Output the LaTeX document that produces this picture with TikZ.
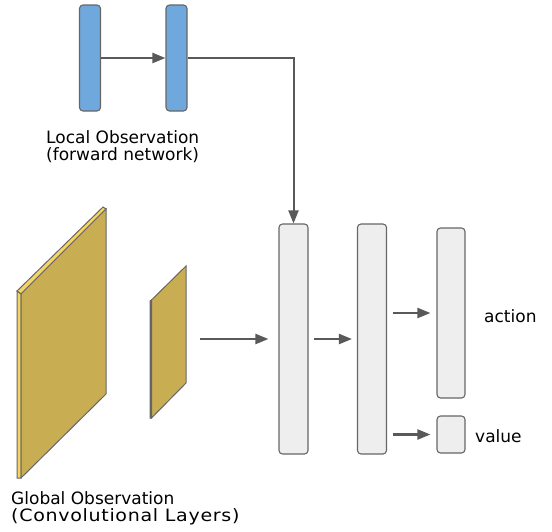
\documentclass[tikz,border=0pt]{standalone}
\usepackage{fontspec}
\setmainfont{DejaVu Sans}
\usetikzlibrary{arrows.meta,calc}
\definecolor{edgegrey}{HTML}{666666}
\definecolor{arrowgrey}{HTML}{595959}
\definecolor{layerblue}{HTML}{6FA8DC}
\definecolor{layergrey}{HTML}{EEEEEE}
\definecolor{mapface}{HTML}{C9AD52}
\definecolor{mapside}{HTML}{F7D461}
\tikzset{
  layer/.style={draw=edgegrey, line width=1.1pt, rounded corners=3.5pt, inner sep=0pt},
  bluelayer/.style={layer, fill=layerblue, minimum width=21pt, minimum height=106pt},
  greylayer/.style={layer, fill=layergrey, minimum width=29pt},
  flow/.style={draw=arrowgrey, line width=2.2pt, -{Triangle[length=13pt,width=10pt]}},
  caption/.style={font=\fontsize{17}{17.5}\selectfont, align=left, inner sep=0pt, text=black},
  mapedge/.style={draw=edgegrey, line width=1pt, line join=miter}
}
\begin{document}
\begin{tikzpicture}[x=1pt, y=-1pt]
\useasboundingbox (0,0) rectangle (552,531);

% local observation: forward network
\node[bluelayer] (l1) at (90,58) {};
\node[bluelayer] (l2) at (176.5,58) {};
\node[caption, anchor=north west] (ltext) at (46,130) {Local Observation\\(forward network)};

% global observation: feature maps
\filldraw[mapedge, fill=mapside] (17,291) -- (103,207) -- (106,209) -- (21,294) -- cycle;
\filldraw[mapedge, fill=mapside] (17,291) -- (21,294) -- (21,478) -- (17,478) -- cycle;
\filldraw[mapedge, fill=mapface] (21,294) -- (106,209) -- (106,394) -- (21,478) -- cycle;
\filldraw[mapedge, fill=edgegrey] (150,301) -- (151.5,300) -- (151.5,418) -- (150,418) -- cycle;
\filldraw[mapedge, fill=mapface] (151.5,300) -- (186,266) -- (186,383) -- (151.5,418) -- cycle;
\coordinate (gmap) at (186,339);
\node[caption, anchor=north west] (gtext) at (11,491) {Global Observation\\{\addfontfeatures{FakeStretch=1.12, LetterSpace=4}(Convolutional Layers)}};

% dense layers and heads
\node[greylayer, minimum height=230pt] (h1) at (293.5,339) {};
\node[greylayer, minimum height=230pt] (h2) at (372,339) {};
\node[greylayer, minimum width=28pt, minimum height=170pt] (act) at (451,313) {};
\node[greylayer, minimum width=28pt, minimum height=37pt] (val) at (451,434.5) {};
\node[caption, anchor=base west] (atext) at (484,322) {action};
\node[caption, anchor=base west] (vtext) at (475,442) {value};

% connectors
\draw[flow] (l1.east) -- (l2.west);
\draw[flow, line width=2pt] (l2.east) -| (h1.north);
\draw[flow, shorten <=14pt, shorten >=10pt] (gmap) -- (h1.west |- gmap);
\draw[flow, shorten <=5pt, shorten >=5pt] (h1.east) -- (h2.west);
\draw[flow, shorten <=5.5pt, shorten >=6pt] (h2.east |- act.west) -- (act.west);
\draw[flow, shorten <=5.5pt, shorten >=6pt] (h2.east |- val.west) -- (val.west);
\end{tikzpicture}
\end{document}
